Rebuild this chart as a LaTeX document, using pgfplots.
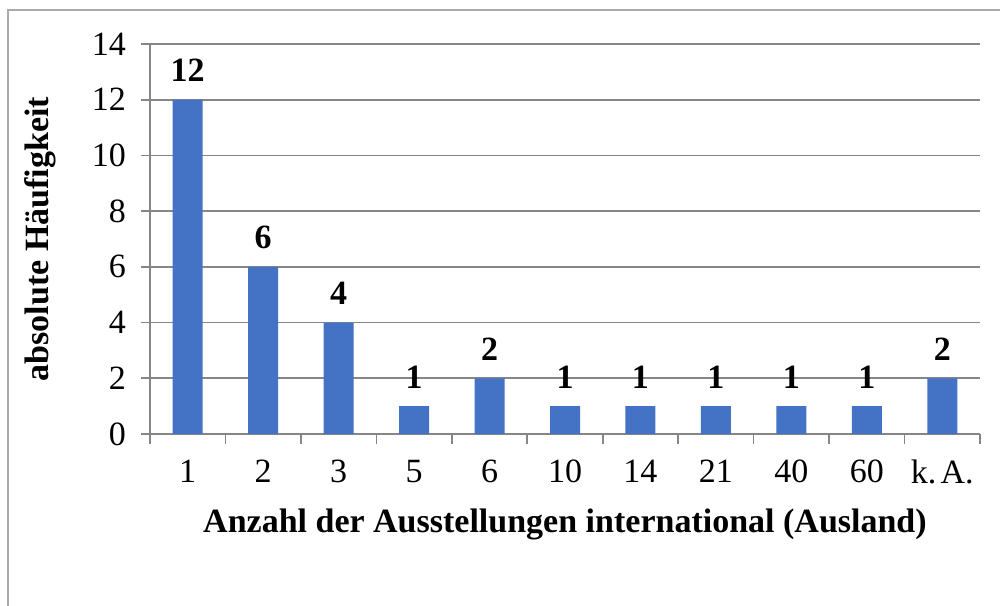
\documentclass[border=0pt]{standalone}
\usepackage{fontspec}
\setmainfont{Liberation Serif}
\usepackage{pgfplots}
\pgfplotsset{compat=1.18}
\definecolor{barblue}{RGB}{68,114,196}
\definecolor{gridgray}{RGB}{134,134,134}
\definecolor{framegray}{RGB}{170,170,170}
\newcommand{\chartfont}{\fontsize{17}{20}\selectfont}
\begin{document}
\begin{tikzpicture}
\path[use as bounding box] (0,0) rectangle (500pt,302.5pt);
\begin{scope}
\clip (0,0) rectangle (500pt,302.5pt);
\draw[framegray, line width=0.8pt] (4pt,-10pt) rectangle (520pt,297.5pt);
\end{scope}
\begin{axis}[
  at={(75pt,85.5pt)}, anchor=south west,
  scale only axis, width=415pt, height=195pt,
  xmin=-0.5, xmax=10.5, ymin=0, ymax=14,
  axis x line*=bottom, axis y line*=left,
  axis line style={-, draw=gridgray, line width=0.8pt},
  xtick={0,...,10},
  xticklabels={1,2,3,5,6,10,14,21,40,60,k.\hspace{0.12em}A.},
  minor xtick={-0.5,0.5,...,10.5},
  major x tick style={draw=none},
  minor tick length=5pt,
  major tick length=4.5pt,
  tick align=outside,
  tick style={gridgray, line width=0.8pt},
  ytick={0,2,...,14},
  ymajorgrids,
  major grid style={gridgray, line width=0.8pt},
  /pgf/number format/assume math mode=true,
  tick label style={font=\chartfont},
  xticklabel style={yshift=-5pt},
  yticklabel style={xshift=-4pt},
  xlabel={Anzahl der Ausstellungen international (Ausland)},
  ylabel={absolute Häufigkeit},
  label style={font=\chartfont\bfseries},
  x label style={at={(axis description cs:0.5,-0.2308)}, anchor=center},
  y label style={at={(axis description cs:-0.1325,0.5)}, anchor=center, rotate=0},
  clip=false,
  nodes near coords,
  every node near coord/.append style={font=\chartfont\bfseries, anchor=center, yshift=14.5pt, text=black},
]
\addplot[ybar, bar width=15pt, fill=barblue, draw=none] coordinates {
(0,12) (1,6) (2,4) (3,1) (4,2) (5,1) (6,1) (7,1) (8,1) (9,1) (10,2)
};
\end{axis}
\end{tikzpicture}
\end{document}
